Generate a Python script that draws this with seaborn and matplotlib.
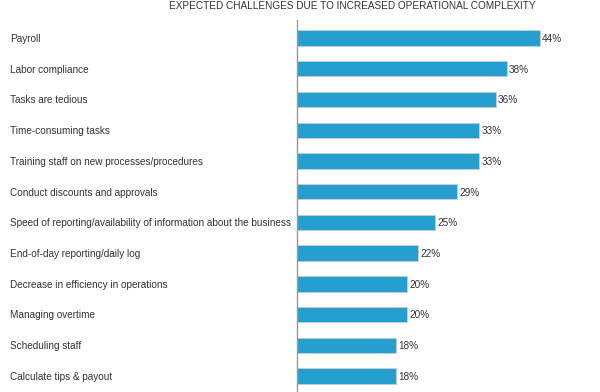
import matplotlib
matplotlib.use('Agg')
import matplotlib.pyplot as plt
import matplotlib.transforms as mtransforms
import seaborn as sns
import pandas as pd

# data
challenges = ['Payroll', 'Labor compliance', 'Tasks are tedious', 'Time-consuming tasks',
              'Training staff on new processes/procedures', 'Conduct discounts and approvals',
              'Speed of reporting/availability of information about the business',
              'End-of-day reporting/daily log', 'Decrease in efficiency in operations',
              'Managing overtime', 'Scheduling staff', 'Calculate tips & payout']
shares = [44, 38, 36, 33, 33, 29, 25, 22, 20, 20, 18, 18]
title = 'EXPECTED CHALLENGES DUE TO INCREASED OPERATIONAL COMPLEXITY'

df = pd.DataFrame({'challenge': challenges, 'share': shares})

sns.set_style('white')
plt.rcParams['font.family'] = ['Liberation Sans', 'DejaVu Sans']

fig = plt.figure(figsize=(6, 3.92), dpi=100)
ax = fig.add_axes([0.495, 0.0, 0.46, 0.949])

sns.barplot(x='share', y='challenge', data=df, orient='h', color='#259fd0',
            width=0.5, saturation=1, edgecolor='#c8cdd2', linewidth=0.6, ax=ax)

ax.set_xlim(0, 50)
ax.set_ylim(11.52, -0.586)
ax.set_xlabel('')
ax.set_ylabel('')
ax.set_xticks([])
ax.set_yticks([])
for side in ['top', 'right', 'bottom']:
    ax.spines[side].set_visible(False)
ax.spines['left'].set_color('#999999')
ax.spines['left'].set_linewidth(1)

# category labels, left aligned near the figure edge
trans = mtransforms.blended_transform_factory(fig.transFigure, ax.transData)
for i, name in enumerate(challenges):
    ax.text(10 / 600, i + 0.03, name, transform=trans, ha='left', va='center',
            fontsize=7.2, color='#333333')

# value labels
for i, v in enumerate(shares):
    ax.text(v + 0.4, i + 0.03, f'{v}%', ha='left', va='center', fontsize=7.2, color='#333333')

fig.text(352 / 600, 1 - 6 / 392, title, ha='center', va='center', fontsize=7.2, color='#333333')

fig.savefig('out.png', dpi=100)
